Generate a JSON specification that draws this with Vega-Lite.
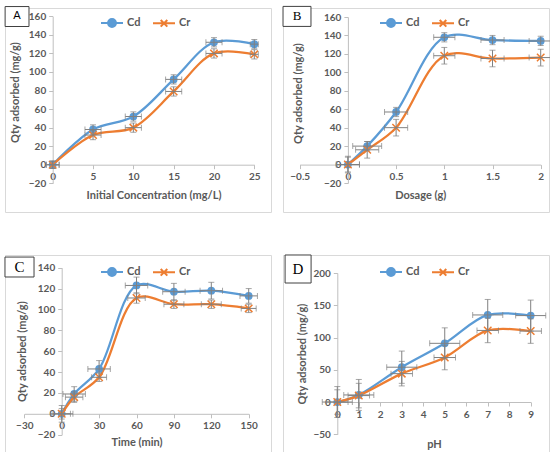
{
  "$schema": "https://vega.github.io/schema/vega-lite/v6.json",
  "padding": {"left": 3, "top": 5, "right": 0, "bottom": 0},
  "background": "white",
  "spacing": {"row": 40, "column": 10},
  "columns": 2,
  "resolve": {
    "scale": {"color": "independent"},
    "legend": {"color": "independent"}
  },
  "concat": [
    {
      "width": 266,
      "height": 204,
      "data": {"values": [
        {"x": 0, "y": 0, "s": "Cd", "ex": 0.8, "ey": 4},
        {"x": 5, "y": 38, "s": "Cd", "ex": 1, "ey": 5},
        {"x": 10, "y": 52, "s": "Cd", "ex": 1, "ey": 5},
        {"x": 15, "y": 92, "s": "Cd", "ex": 1, "ey": 5},
        {"x": 20, "y": 132, "s": "Cd", "ex": 1, "ey": 5},
        {"x": 25, "y": 130, "s": "Cd", "ex": 0.5, "ey": 5},
        {"x": 0, "y": 0, "s": "Cr", "ex": 0.8, "ey": 4},
        {"x": 5, "y": 32, "s": "Cr", "ex": 1, "ey": 5},
        {"x": 10, "y": 40, "s": "Cr", "ex": 1, "ey": 5},
        {"x": 15, "y": 79, "s": "Cr", "ex": 1, "ey": 5},
        {"x": 20, "y": 120, "s": "Cr", "ex": 1, "ey": 5},
        {"x": 25, "y": 119, "s": "Cr", "ex": 0.5, "ey": 5}
      ]},
      "resolve": {"axis": {"x": "independent", "y": "independent"}},
      "layer": [
        {
          "encoding": {
            "x": {"field": "x", "type": "quantitative",
              "scale": {"domain": [0, 25], "range": [47.7, 249.3], "nice": false, "zero": false},
              "axis": {"title": "Initial Concentration (mg/L)", "values": [0, 5, 10, 15, 20, 25], "offset": -47.3, "titlePadding": 8}},
            "y": {"field": "y", "type": "quantitative",
              "scale": {"domain": [-20, 160], "range": [175.3, 8.3], "nice": false, "zero": false},
              "axis": {"title": "Qty adsorbed  (mg/g)", "values": [-20, 0, 20, 40, 60, 80, 100, 120, 140, 160], "offset": -47.7, "titlePadding": 8, "titleY": 84}}
          },
          "layer": [
            {"mark": {"type": "line", "interpolate": "catmull-rom", "strokeWidth": 2.25},
             "encoding": {"color": {"field": "s", "type": "nominal",
               "scale": {"domain": ["Cd", "Cr"], "range": ["#5B9BD5", "#ED7D31"]},
               "legend": {"orient": "none", "legendX": 95, "legendY": 3, "direction": "horizontal", "title": null,
                 "symbolSize": 484, "columnPadding": 8, "labelOffset": 3, "labelFontSize": 11, "labelColor": "#595959", "labelFont": "Lato", "labelFontWeight": "bold",
                 "encode": {"symbols": {"update": {
                   "shape": {"signal": "datum.value === 'Cd' ? 'M-1,0H1M0.36,0A0.36,0.36 0 1,1 -0.36,0A0.36,0.36 0 1,1 0.36,0Z' : 'M-1,0H1M-0.3,-0.3L0.3,0.3M-0.3,0.3L0.3,-0.3'"},
                   "fill": {"signal": "datum.value === 'Cd' ? '#5B9BD5' : 'transparent'"},
                   "stroke": {"signal": "datum.value === 'Cd' ? '#5B9BD5' : '#ED7D31'"},
                   "strokeWidth": {"value": 2}, "opacity": {"value": 1}}}}}}}},
            {"transform": [{"filter": "datum.s === 'Cd'"}],
             "mark": {"type": "point", "shape": "circle", "filled": true, "color": "#5B9BD5", "size": 60, "opacity": 1}},
            {"transform": [{"filter": "datum.s === 'Cr'"}],
             "mark": {"type": "point", "shape": "M-1,-1L1,1M-1,1L1,-1", "filled": false, "color": "#ED7D31", "size": 56, "strokeWidth": 1.5, "opacity": 1}},
            {"mark": {"type": "errorbar", "ticks": {"size": 6}, "color": "#808080", "thickness": 1},
             "encoding": {"yError": {"field": "ey"}}},
            {"mark": {"type": "errorbar", "ticks": {"size": 6}, "color": "#808080", "thickness": 1},
             "encoding": {"xError": {"field": "ex"}}}
          ]
        },
        {"data": {"values": [{"t": "A"}]},
         "mark": {"type": "rect", "fill": "white", "stroke": "#404040", "strokeWidth": 1},
         "encoding": {"x": {"datum": -5.9, "axis": null}, "x2": {"datum": -2.94}, "y": {"datum": 170.5, "axis": null}, "y2": {"datum": 149}}},
        {"data": {"values": [{"t": "A"}]},
         "mark": {"type": "text", "font": "Lato", "fontSize": 11, "color": "#000000"},
         "encoding": {"x": {"datum": -4.43, "axis": null}, "y": {"datum": 159.8, "axis": null}, "text": {"field": "t"}}}
      ]
    },
    {
      "width": 266,
      "height": 204,
      "data": {"values": [
        {"x": 0, "y": 0, "s": "Cd", "ex": 0.12, "ey": 9},
        {"x": 0.2, "y": 20, "s": "Cd", "ex": 0.15, "ey": 5},
        {"x": 0.5, "y": 57, "s": "Cd", "ex": 0.12, "ey": 5},
        {"x": 1, "y": 138, "s": "Cd", "ex": 0.11, "ey": 5},
        {"x": 1.5, "y": 135, "s": "Cd", "ex": 0.12, "ey": 5},
        {"x": 2, "y": 134, "s": "Cd", "ex": 0.12, "ey": 5},
        {"x": 0, "y": 0, "s": "Cr", "ex": 0.12, "ey": 8},
        {"x": 0.2, "y": 16, "s": "Cr", "ex": 0.12, "ey": 9},
        {"x": 0.5, "y": 40, "s": "Cr", "ex": 0.12, "ey": 9},
        {"x": 1, "y": 118, "s": "Cr", "ex": 0.11, "ey": 9},
        {"x": 1.5, "y": 115, "s": "Cr", "ex": 0.12, "ey": 9},
        {"x": 2, "y": 116, "s": "Cr", "ex": 0.12, "ey": 9}
      ]},
      "resolve": {"axis": {"x": "independent", "y": "independent"}},
      "layer": [
        {
          "encoding": {
            "x": {"field": "x", "type": "quantitative",
              "scale": {"domain": [-0.5, 2], "range": [16.7, 257.7], "nice": false, "zero": false},
              "axis": {"title": "Dosage (g)", "values": [-0.5, 0, 0.5, 1, 1.5, 2], "format": "~r", "offset": -47.4, "titlePadding": 8}},
            "y": {"field": "y", "type": "quantitative",
              "scale": {"domain": [-20, 160], "range": [175, 9], "nice": false, "zero": false},
              "axis": {"title": "Qty adsorbed (mg/g)", "values": [-20, 0, 20, 40, 60, 80, 100, 120, 140, 160], "offset": -64.9, "titlePadding": 20, "titleY": 85}}
          },
          "layer": [
            {"mark": {"type": "line", "interpolate": "catmull-rom", "strokeWidth": 2.25},
             "encoding": {"color": {"field": "s", "type": "nominal",
               "scale": {"domain": ["Cd", "Cr"], "range": ["#5B9BD5", "#ED7D31"]},
               "legend": {"orient": "none", "legendX": 96, "legendY": 3, "direction": "horizontal", "title": null,
                 "symbolSize": 484, "columnPadding": 8, "labelOffset": 3, "labelFontSize": 11, "labelColor": "#595959", "labelFont": "Lato", "labelFontWeight": "bold",
                 "encode": {"symbols": {"update": {
                   "shape": {"signal": "datum.value === 'Cd' ? 'M-1,0H1M0.36,0A0.36,0.36 0 1,1 -0.36,0A0.36,0.36 0 1,1 0.36,0Z' : 'M-1,0H1M-0.3,-0.3L0.3,0.3M-0.3,0.3L0.3,-0.3'"},
                   "fill": {"signal": "datum.value === 'Cd' ? '#5B9BD5' : 'transparent'"},
                   "stroke": {"signal": "datum.value === 'Cd' ? '#5B9BD5' : '#ED7D31'"},
                   "strokeWidth": {"value": 2}, "opacity": {"value": 1}}}}}}}},
            {"transform": [{"filter": "datum.s === 'Cd'"}],
             "mark": {"type": "point", "shape": "circle", "filled": true, "color": "#5B9BD5", "size": 60, "opacity": 1}},
            {"transform": [{"filter": "datum.s === 'Cr'"}],
             "mark": {"type": "point", "shape": "M-1,-1L1,1M-1,1L1,-1", "filled": false, "color": "#ED7D31", "size": 56, "strokeWidth": 1.5, "opacity": 1}},
            {"mark": {"type": "errorbar", "ticks": {"size": 6}, "color": "#808080", "thickness": 1},
             "encoding": {"yError": {"field": "ey"}}},
            {"mark": {"type": "errorbar", "ticks": {"size": 6}, "color": "#808080", "thickness": 1},
             "encoding": {"xError": {"field": "ex"}}}
          ]
        },
        {"data": {"values": [{"t": "B"}]},
         "mark": {"type": "rect", "fill": "white", "stroke": "#404040", "strokeWidth": 1},
         "encoding": {"x": {"datum": -0.673, "axis": null}, "x2": {"datum": -0.383}, "y": {"datum": 171.5, "axis": null}, "y2": {"datum": 149.8}}},
        {"data": {"values": [{"t": "B"}]},
         "mark": {"type": "text", "font": "Liberation Serif", "fontSize": 13, "color": "#000000"},
         "encoding": {"x": {"datum": -0.528, "axis": null}, "y": {"datum": 160.6, "axis": null}, "text": {"field": "t"}}}
      ]
    },
    {
      "width": 266,
      "height": 204,
      "data": {"values": [
        {"x": 0, "y": 0, "s": "Cd", "ex": 9, "ey": 8},
        {"x": 10, "y": 19, "s": "Cd", "ex": 9, "ey": 7},
        {"x": 30, "y": 43, "s": "Cd", "ex": 9, "ey": 8},
        {"x": 60, "y": 123, "s": "Cd", "ex": 9, "ey": 8},
        {"x": 90, "y": 117, "s": "Cd", "ex": 9, "ey": 8},
        {"x": 120, "y": 118, "s": "Cd", "ex": 9, "ey": 8},
        {"x": 150, "y": 113, "s": "Cd", "ex": 7, "ey": 7},
        {"x": 0, "y": 0, "s": "Cr", "ex": 7, "ey": 5},
        {"x": 10, "y": 16, "s": "Cr", "ex": 7, "ey": 5},
        {"x": 30, "y": 35, "s": "Cr", "ex": 6, "ey": 4},
        {"x": 60, "y": 111, "s": "Cr", "ex": 7, "ey": 5},
        {"x": 90, "y": 105, "s": "Cr", "ex": 8, "ey": 4},
        {"x": 120, "y": 105, "s": "Cr", "ex": 8, "ey": 4},
        {"x": 150, "y": 101, "s": "Cr", "ex": 6, "ey": 4}
      ]},
      "resolve": {"axis": {"x": "independent", "y": "independent"}},
      "layer": [
        {
          "encoding": {
            "x": {"field": "x", "type": "quantitative",
              "scale": {"domain": [-30, 150], "range": [19.3, 243.7], "nice": false, "zero": false},
              "axis": {"title": "Time (min)", "values": [-30, 0, 30, 60, 90, 120, 150], "offset": -45.2, "titlePadding": 6}},
            "y": {"field": "y", "type": "quantitative",
              "scale": {"domain": [-20, 140], "range": [179.7, 12.7], "nice": false, "zero": false},
              "axis": {"title": "Qty adsorbed (mg/g)", "values": [-20, 0, 20, 40, 60, 80, 100, 120, 140], "offset": -56.7, "titlePadding": 10}}
          },
          "layer": [
            {"mark": {"type": "line", "interpolate": "catmull-rom", "strokeWidth": 2.25},
             "encoding": {"color": {"field": "s", "type": "nominal",
               "scale": {"domain": ["Cd", "Cr"], "range": ["#5B9BD5", "#ED7D31"]},
               "legend": {"orient": "none", "legendX": 95, "legendY": 5, "direction": "horizontal", "title": null,
                 "symbolSize": 484, "columnPadding": 8, "labelOffset": 3, "labelFontSize": 11, "labelColor": "#595959", "labelFont": "Lato", "labelFontWeight": "bold",
                 "encode": {"symbols": {"update": {
                   "shape": {"signal": "datum.value === 'Cd' ? 'M-1,0H1M0.36,0A0.36,0.36 0 1,1 -0.36,0A0.36,0.36 0 1,1 0.36,0Z' : 'M-1,0H1M-0.3,-0.3L0.3,0.3M-0.3,0.3L0.3,-0.3'"},
                   "fill": {"signal": "datum.value === 'Cd' ? '#5B9BD5' : 'transparent'"},
                   "stroke": {"signal": "datum.value === 'Cd' ? '#5B9BD5' : '#ED7D31'"},
                   "strokeWidth": {"value": 2}, "opacity": {"value": 1}}}}}}}},
            {"transform": [{"filter": "datum.s === 'Cd'"}],
             "mark": {"type": "point", "shape": "circle", "filled": true, "color": "#5B9BD5", "size": 60, "opacity": 1}},
            {"transform": [{"filter": "datum.s === 'Cr'"}],
             "mark": {"type": "point", "shape": "M-1,-1L1,1M-1,1L1,-1", "filled": false, "color": "#ED7D31", "size": 56, "strokeWidth": 1.5, "opacity": 1}},
            {"mark": {"type": "errorbar", "ticks": {"size": 6}, "color": "#808080", "thickness": 1},
             "encoding": {"yError": {"field": "ey"}}},
            {"mark": {"type": "errorbar", "ticks": {"size": 6}, "color": "#808080", "thickness": 1},
             "encoding": {"xError": {"field": "ex"}}}
          ]
        },
        {"data": {"values": [{"t": "C"}]},
         "mark": {"type": "rect", "fill": "white", "stroke": "#404040", "strokeWidth": 1},
         "encoding": {"x": {"datum": -45.5, "axis": null}, "x2": {"datum": -22.2}, "y": {"datum": 150.2, "axis": null}, "y2": {"datum": 131.1}}},
        {"data": {"values": [{"t": "C"}]},
         "mark": {"type": "text", "font": "Liberation Serif", "fontSize": 15, "color": "#000000"},
         "encoding": {"x": {"datum": -33.85, "axis": null}, "y": {"datum": 140.7, "axis": null}, "text": {"field": "t"}}}
      ]
    },
    {
      "width": 266,
      "height": 204,
      "data": {"values": [
        {"x": 0, "y": 0, "s": "Cd", "ex": 0.7, "ey": 24},
        {"x": 1, "y": 11, "s": "Cd", "ex": 0.7, "ey": 24},
        {"x": 3, "y": 54, "s": "Cd", "ex": 0.7, "ey": 25},
        {"x": 5, "y": 91, "s": "Cd", "ex": 0.7, "ey": 24},
        {"x": 7, "y": 135, "s": "Cd", "ex": 0.7, "ey": 24},
        {"x": 9, "y": 134, "s": "Cd", "ex": 0.7, "ey": 24},
        {"x": 0, "y": 0, "s": "Cr", "ex": 0.5, "ey": 19},
        {"x": 1, "y": 10, "s": "Cr", "ex": 0.5, "ey": 19},
        {"x": 3, "y": 44, "s": "Cr", "ex": 0.5, "ey": 19},
        {"x": 5, "y": 69, "s": "Cr", "ex": 0.5, "ey": 19},
        {"x": 7, "y": 111, "s": "Cr", "ex": 0.5, "ey": 19},
        {"x": 9, "y": 110, "s": "Cr", "ex": 0.5, "ey": 19}
      ]},
      "resolve": {"axis": {"x": "independent", "y": "independent"}},
      "layer": [
        {
          "encoding": {
            "x": {"field": "x", "type": "quantitative",
              "scale": {"domain": [0, 9], "range": [54.3, 247.7], "nice": false, "zero": false},
              "axis": {"title": "pH", "values": [0, 1, 2, 3, 4, 5, 6, 7, 8, 9], "offset": -57, "titlePadding": 19}},
            "y": {"field": "y", "type": "quantitative",
              "scale": {"domain": [-50, 200], "range": [179.3, 18], "nice": false, "zero": false},
              "axis": {"title": "Qty adsorbed (mg/g)", "values": [-50, 0, 50, 100, 150, 200], "offset": -54.3, "titlePadding": 5}}
          },
          "layer": [
            {"mark": {"type": "line", "interpolate": "catmull-rom", "strokeWidth": 2.25},
             "encoding": {"color": {"field": "s", "type": "nominal",
               "scale": {"domain": ["Cd", "Cr"], "range": ["#5B9BD5", "#ED7D31"]},
               "legend": {"orient": "none", "legendX": 96, "legendY": 5, "direction": "horizontal", "title": null,
                 "symbolSize": 484, "columnPadding": 8, "labelOffset": 3, "labelFontSize": 11, "labelColor": "#595959", "labelFont": "Lato", "labelFontWeight": "bold",
                 "encode": {"symbols": {"update": {
                   "shape": {"signal": "datum.value === 'Cd' ? 'M-1,0H1M0.36,0A0.36,0.36 0 1,1 -0.36,0A0.36,0.36 0 1,1 0.36,0Z' : 'M-1,0H1M-0.3,-0.3L0.3,0.3M-0.3,0.3L0.3,-0.3'"},
                   "fill": {"signal": "datum.value === 'Cd' ? '#5B9BD5' : 'transparent'"},
                   "stroke": {"signal": "datum.value === 'Cd' ? '#5B9BD5' : '#ED7D31'"},
                   "strokeWidth": {"value": 2}, "opacity": {"value": 1}}}}}}}},
            {"transform": [{"filter": "datum.s === 'Cd'"}],
             "mark": {"type": "point", "shape": "circle", "filled": true, "color": "#5B9BD5", "size": 60, "opacity": 1}},
            {"transform": [{"filter": "datum.s === 'Cr'"}],
             "mark": {"type": "point", "shape": "M-1,-1L1,1M-1,1L1,-1", "filled": false, "color": "#ED7D31", "size": 56, "strokeWidth": 1.5, "opacity": 1}},
            {"mark": {"type": "errorbar", "ticks": {"size": 6}, "color": "#808080", "thickness": 1},
             "encoding": {"yError": {"field": "ey"}}},
            {"mark": {"type": "errorbar", "ticks": {"size": 6}, "color": "#808080", "thickness": 1},
             "encoding": {"xError": {"field": "ex"}}}
          ]
        },
        {"data": {"values": [{"t": "D"}]},
         "mark": {"type": "rect", "fill": "white", "stroke": "#404040", "strokeWidth": 1},
         "encoding": {"x": {"datum": -2.43, "axis": null}, "x2": {"datum": -1.22}, "y": {"datum": 227.9, "axis": null}, "y2": {"datum": 184.5}}},
        {"data": {"values": [{"t": "D"}]},
         "mark": {"type": "text", "font": "Liberation Serif", "fontSize": 15, "color": "#000000"},
         "encoding": {"x": {"datum": -1.83, "axis": null}, "y": {"datum": 206.2, "axis": null}, "text": {"field": "t"}}}
      ]
    }
  ],
  "config": {
    "view": {"stroke": "#d9d9d9", "strokeWidth": 1},
    "axis": {
      "grid": false,
      "domainColor": "#bfbfbf",
      "tickColor": "#bfbfbf",
      "tickSize": 4,
      "labelColor": "#595959",
      "titleColor": "#595959",
      "labelFont": "Lato",
      "titleFont": "Lato",
      "labelFontSize": 10,
      "titleFontSize": 11,
      "labelFontWeight": "bold",
      "titleFontWeight": "bold",
      "labelPadding": 3,
      "labelOverlap": false,
      "labelFlush": false
    }
  }
}
